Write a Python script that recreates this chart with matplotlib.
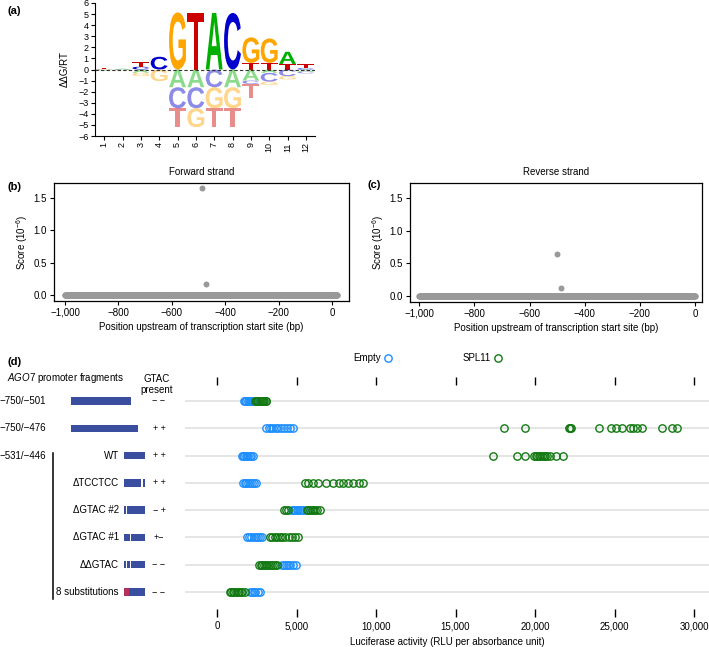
import numpy as np
import matplotlib
matplotlib.use("Agg")
import matplotlib.pyplot as plt
from matplotlib.textpath import TextPath
from matplotlib.patches import PathPatch
from matplotlib.font_manager import FontProperties
from matplotlib.transforms import Affine2D, blended_transform_factory
from matplotlib.lines import Line2D
from matplotlib.ticker import FuncFormatter

plt.rcParams['font.family'] = ['Liberation Sans', 'DejaVu Sans']
plt.rcParams['mathtext.fontset'] = 'custom'
plt.rcParams['mathtext.rm'] = 'Liberation Sans'
plt.rcParams['mathtext.it'] = 'Liberation Sans:italic'

# ---- (a) motif logo: letters stacked per position (letter, height) ----
logo_positions = list(range(1, 13))
logo_up = [
    [('G', 0.04), ('T', 0.1)],
    [('A', 0.06)],
    [('C', 0.25), ('T', 0.4)],
    [('C', 1.15)],
    [('G', 5.15)],
    [('T', 5.1)],
    [('A', 5.1)],
    [('C', 5.1)],
    [('T', 0.6), ('G', 2.3)],
    [('T', 0.6), ('G', 2.2)],
    [('T', 0.5), ('A', 1.1)],
    [('C', 0.1), ('T', 0.4)],
]
logo_down = [
    [('C', 0.06), ('A', 0.05)],
    [('C', 0.05), ('G', 0.05)],
    [('A', 0.3), ('G', 0.3)],
    [('G', 1.05)],
    [('A', 1.6), ('C', 1.9), ('T', 1.7)],
    [('A', 1.6), ('C', 1.9), ('G', 1.7)],
    [('C', 1.6), ('G', 1.9), ('T', 1.7)],
    [('A', 1.6), ('G', 1.9), ('T', 1.7)],
    [('A', 1.0), ('C', 0.3), ('T', 1.3)],
    [('A', 0.3), ('C', 0.8), ('G', 0.3)],
    [('C', 0.6), ('G', 0.3)],
    [('A', 0.2), ('C', 0.15)],
]
base_colors = {'A': '#00b000', 'C': '#0000cc', 'G': '#ffa500', 'T': '#cc0000'}

# ---- (b), (c) motif scan scores ----
fwd_pos = np.arange(-1000, 21)
fwd_hits = {-486: 1.645, -470: 0.17}
rev_pos = np.arange(-1000, 1)
rev_hits = {-501: 0.64, -487: 0.125}

# ---- (d) luciferase assay ----
fragments = ['\u2212750/\u2212501', '\u2212750/\u2212476', '\u2212531/\u2212446']
sub_labels = ['WT', '\u0394TCCTCC', '\u0394GTAC #2', '\u0394GTAC #1',
              '\u0394\u0394GTAC', '8 substitutions']
gtac_present = ['\u2212 \u2212', '+ +', '+ +', '+ +', '\u2212 +', '+\u2212',
                '\u2212 \u2212', '\u2212 \u2212']
# bp extents of each construct bar
bar_start = [-750, -750, -531, -531, -531, -531, -531, -531]
bar_end = [-501, -476, -446, -446, -446, -446, -446, -446]
# deletions (start bp, length) per row and substituted block
deletions = [[], [], [], [(-461, 6)], [(-523, 5)], [(-509, 5)],
             [(-523, 5), (-509, 5)], []]
substitution = (7, -531, -510)

empty_vals = [
    [1700, 1780, 1850, 1920, 2000, 2080, 2150, 2250],
    [3100, 3250, 3400, 3550, 3700, 3850, 4000, 4200, 4400, 4600, 4800],
    [1590, 1650, 1720, 1800, 1870, 1950, 2050, 2150, 2270],
    [1620, 1750, 1850, 1950, 2050, 2200, 2300, 2450],
    [4690, 4800, 4900, 5010, 5120, 5230, 5330, 5460],
    [1910, 2000, 2150, 2350, 2450, 2550, 2700, 2850],
    [4060, 4200, 4350, 4450, 4600, 4750, 4960],
    [2070, 2200, 2300, 2400, 2550, 2700],
]
spl11_vals = [
    [2390, 2450, 2520, 2600, 2680, 2750, 2830, 2900, 2980, 3050, 3110],
    [18070, 19370, 22150, 22200, 22250, 24030, 24760, 25070, 25450, 25970,
     26190, 26390, 26710, 28010, 28600, 28910],
    [17340, 18870, 19390, 19920, 20050, 20130, 20250, 20340, 20450, 20550,
     20650, 20760, 20920, 21340, 21740],
    [5540, 5750, 6060, 6380, 6860, 7280, 7700, 7950, 8270, 8580, 8900, 9210],
    [4220, 4330, 4450, 5640, 5750, 5850, 5950, 6060, 6160, 6260, 6480],
    [3320, 3450, 3650, 3800, 3950, 4100, 4300, 4500, 4700, 4900, 5120],
    [2630, 2750, 2850, 2950, 3050, 3150, 3250, 3400, 3550, 3650, 3780],
    [800, 900, 1000, 1100, 1200, 1300, 1400, 1500, 1600, 1760],
]
empty_color = '#1e8fff'
spl11_color = '#137a13'

W, H = 709, 647
fig = plt.figure(figsize=(W / 100, H / 100), dpi=100)


def px_axes(l, t, r, b):
    return fig.add_axes([l / W, 1 - b / H, (r - l) / W, (b - t) / H])


fs = 7
lab_kw = dict(fontsize=8, fontweight='bold', va='center')

# ---------------- (a) ----------------
ax_a = px_axes(95, 3, 315, 136)
fp = FontProperties(family='Liberation Sans', weight='bold')


def draw_letter(ax, ch, xc, y0, h, color, alpha=1.0, w=0.92):
    tp = TextPath((0, 0), ch, size=1, prop=fp)
    bb = tp.get_extents()
    tr = Affine2D().translate(-bb.x0, -bb.y0).scale(w / bb.width, h / bb.height)
    tr = tr.translate(xc - w / 2, y0)
    ax.add_patch(PathPatch(tr.transform_path(tp), fc=color, ec='none', alpha=alpha))


for p, up, down in zip(logo_positions, logo_up, logo_down):
    y = 0
    for ch, h in up:
        draw_letter(ax_a, ch, p, y, h, base_colors[ch])
        y += h
    y = 0
    for ch, h in down:
        y -= h
        draw_letter(ax_a, ch, p, y, h, base_colors[ch], alpha=0.45)

ax_a.axhline(0, color='#333333', lw=0.8, ls=(0, (3, 2)))
ax_a.set_xlim(0.5, 12.5)
ax_a.set_ylim(-6, 6)
ax_a.set_yticks(range(-6, 7))
ax_a.set_xticks(logo_positions)
ax_a.tick_params(labelsize=6.5, length=3, width=0.8, pad=1.5)
plt.setp(ax_a.get_xticklabels(), rotation=90)
for s in ['top', 'right']:
    ax_a.spines[s].set_visible(False)
ax_a.set_ylabel('\u0394\u0394G/RT', fontsize=fs, labelpad=6)
fig.text(8 / W, 1 - 11 / H, '(a)', **lab_kw)

# ---------------- (b), (c) ----------------
minus_fmt = FuncFormatter(lambda v, p: f'{int(v):,}'.replace('-', '\u2212'))


def scan_panel(ax, pos, hits, title, xlim):
    score = np.zeros(len(pos))
    for k, v in hits.items():
        score[pos == k] = v
    ax.plot(pos, score, 'o', color='#999999', ms=4.3, mec='none')
    ax.set_xlim(*xlim)
    ax.set_ylim(-0.092, 1.726)
    ax.set_yticks([0, 0.5, 1.0, 1.5])
    ax.set_xticks([-1000, -800, -600, -400, -200, 0])
    ax.xaxis.set_major_formatter(minus_fmt)
    ax.tick_params(labelsize=fs, length=3, width=0.8, pad=2)
    for s in ax.spines.values():
        s.set_linewidth(0.9)
    ax.set_title(title, fontsize=fs, pad=6)
    ax.set_ylabel('Score (10$^{\\mathregular{-6}}$)', fontsize=fs, labelpad=3)
    ax.set_xlabel('Position upstream of transcription start site (bp)',
                  fontsize=fs, labelpad=3)


ax_b = px_axes(54, 183, 349, 301)
scan_panel(ax_b, fwd_pos, fwd_hits, 'Forward strand', (-1041, 64))
ax_c = px_axes(410, 183, 702, 302)
scan_panel(ax_c, rev_pos, rev_hits, 'Reverse strand', (-1033, 25))
fig.text(8 / W, 1 - 187 / H, '(b)', **lab_kw)
fig.text(367 / W, 1 - 185 / H, '(c)', **lab_kw)

# ---------------- (d) ----------------
n_rows = len(empty_vals)
rows = np.arange(n_rows)
ylim_d = (7.916, -0.879)

ax_d = px_axes(185, 377, 709, 617)
for r in rows:
    ax_d.axhline(r, color='#dedede', lw=1.1, zorder=0)
    ax_d.plot(empty_vals[r], [r] * len(empty_vals[r]), 'o', mfc='none',
              mec=empty_color, ms=5.3, mew=1.0, zorder=2)
    ax_d.plot(spl11_vals[r], [r] * len(spl11_vals[r]), 'o', mfc='none',
              mec=spl11_color, ms=5.3, mew=1.0, zorder=3)
ax_d.set_xlim(-2013, 30943)
ax_d.set_ylim(*ylim_d)
ax_d.set_xticks(range(0, 30001, 5000))
ax_d.xaxis.set_major_formatter(FuncFormatter(lambda v, p: f'{int(v):,}'))
ax_d.set_yticks([])
ax_d.tick_params(axis='x', top=True, bottom=True, direction='in', length=6,
                 width=1.0, labelsize=fs, pad=3)
for s in ax_d.spines.values():
    s.set_visible(False)
ax_d.set_xlabel('Luciferase activity (RLU per absorbance unit)', fontsize=fs,
                labelpad=4)
handles = [Line2D([], [], marker='o', ls='none', mfc='none', mec=empty_color,
                  ms=5.3, mew=1.0, label='Empty'),
           Line2D([], [], marker='o', ls='none', mfc='none', mec=spl11_color,
                  ms=5.3, mew=1.0, label='SPL11')]
fig.legend(handles=handles, ncol=2, markerfirst=False, frameon=False,
           handletextpad=0.25, handlelength=1.0, columnspacing=7.2,
           fontsize=fs, loc='center', bbox_to_anchor=(428 / W, 1 - 358 / H))

# construct schematic (x in bp)
ax_s = px_axes(0, 377, 185, 617)
ax_s.set_xlim(-1042.6, -280.4)
ax_s.set_ylim(*ylim_d)
ax_s.axis('off')
bar_h = 0.27
ax_s.barh(rows, np.array(bar_end) - np.array(bar_start), left=bar_start,
          height=bar_h, color='#3a4ea0')
for r in rows:
    for d0, dl in deletions[r]:
        ax_s.barh(r, dl, left=d0, height=bar_h + 0.02, color='white')
sr, s0, s1 = substitution
ax_s.barh(sr, s1 - s0, left=s0, height=bar_h, color='#b3325c')

tr_fy = blended_transform_factory(fig.transFigure, ax_s.transData)
for r, lab in enumerate(fragments):
    fig.text(0 / W, r, lab, transform=tr_fy, fontsize=fs, va='center', ha='left')
for r, lab in enumerate(sub_labels, start=2):
    fig.text(119 / W, r, lab, transform=tr_fy, fontsize=fs, va='center',
             ha='right')
for r, lab in enumerate(gtac_present):
    fig.text(159 / W, r, lab, transform=tr_fy, fontsize=fs - 0.5,
             va='center', ha='center')
fig.add_artist(Line2D([53 / W, 53 / W], [1.89, 7.26], transform=tr_fy,
                      color='black', lw=1.1))

fig.text(7 / W, 1 - 378 / H, '$\\mathit{AGO7}$ promoter fragments',
         fontsize=fs, va='center', ha='left')
fig.text(157 / W, 1 - 384.5 / H, 'GTAC\npresent', fontsize=fs,
         va='center', ha='center', linespacing=1.05)
fig.text(8 / W, 1 - 362 / H, '(d)', **lab_kw)

fig.savefig('out.png', dpi=100)
